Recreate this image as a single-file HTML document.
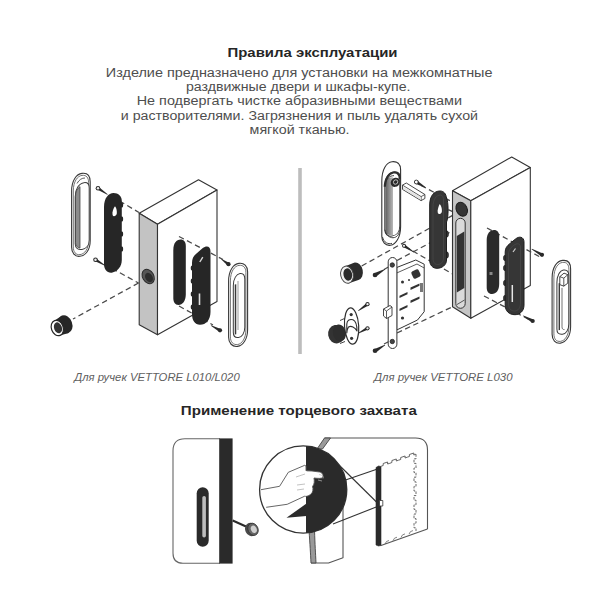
<!DOCTYPE html>
<html><head><meta charset="utf-8"><style>
html,body{margin:0;padding:0;background:#fff;width:600px;height:600px;overflow:hidden}
svg{display:block}
.t{font-family:"Liberation Sans",sans-serif}
</style></head><body>
<svg width="600" height="600" viewBox="0 0 600 600">

<g class="t" fill="#262626">
<text x="227.5" y="56.7" font-size="13.4" font-weight="bold" textLength="170" lengthAdjust="spacingAndGlyphs">Правила эксплуатации</text>
<text x="180.8" y="414.7" font-size="13.4" font-weight="bold" textLength="236" lengthAdjust="spacingAndGlyphs">Применение торцевого захвата</text>
</g>
<g class="t" fill="#4e4e4e" font-size="12">
<text x="105.8" y="76.7" textLength="386.7" lengthAdjust="spacingAndGlyphs">Изделие предназначено для установки на межкомнатные</text>
<text x="186" y="91" textLength="224.5" lengthAdjust="spacingAndGlyphs">раздвижные двери и шкафы-купе.</text>
<text x="136.7" y="105" textLength="325.3" lengthAdjust="spacingAndGlyphs">Не подвергать чистке абразивными веществами</text>
<text x="120.8" y="119.5" textLength="357.2" lengthAdjust="spacingAndGlyphs">и растворителями. Загрязнения и пыль удалять сухой</text>
<text x="249.6" y="134" textLength="100" lengthAdjust="spacingAndGlyphs">мягкой тканью.</text>
</g>
<g class="t" fill="#606060" font-size="10" font-style="italic">
<text x="74.2" y="380.5" textLength="165.5" lengthAdjust="spacingAndGlyphs">Для ручек VETTORE L010/L020</text>
<text x="374" y="380.5" textLength="138.5" lengthAdjust="spacingAndGlyphs">Для ручек VETTORE L030</text>
</g>
<rect x="298.2" y="168" width="3.6" height="186" fill="#bdbdbd"/>

<g id="left" stroke-linejoin="round" stroke-linecap="butt">
<g stroke="#4a4a4a" stroke-width="1.25" stroke-dasharray="5.5 3.5" fill="none"><line x1="119.5" y1="201" x2="139" y2="212.5"/><line x1="112" y1="268.5" x2="138.5" y2="283"/><line x1="138.5" y1="283" x2="73" y2="319"/></g>
<polygon points="139.2,213.3 198.5,179.7 217,190 157.5,224.2" fill="#fff" stroke="#333" stroke-width="1.1"/>
<polygon points="139.2,213.3 157.5,224.2 157.5,334.7 139.2,324.7" fill="#c3c3c3" stroke="#333" stroke-width="1.1"/>
<polygon points="157.5,224.2 217,190 217,301.5 157.5,334.7" fill="#fff" stroke="#333" stroke-width="1.1"/>
<ellipse cx="148.2" cy="276.5" rx="5.6" ry="7.6" transform="rotate(-30 148.2 276.5)" fill="#555" stroke="#2a2a2a" stroke-width="1"/>
<ellipse cx="149" cy="277.5" rx="3.6" ry="5" transform="rotate(-30 149 277.5)" fill="#2c2c2c"/>
<g stroke="#4a4a4a" stroke-width="1.25" stroke-dasharray="5.5 3.5" fill="none"><line x1="179" y1="236.5" x2="223" y2="259.5"/><line x1="179" y1="306" x2="213" y2="325"/></g>
<path d="M173.3,250 C173.3,243 176.5,239.5 180.5,239.5 C184,239.5 185.8,242 185.8,246 L185.8,294 C185.8,301 182.5,305 178.5,305 C175,305 173.3,302 173.3,298 Z" fill="#262626"/>
<path d="M192,263 C192,258.5 193.5,256 196.5,253.5 L202.5,248.3 C206.5,245 210.5,246 210.5,251.5 L210.5,312 C210.5,320 206,324.8 200,324.8 C195,324.8 192,320.5 192,314 Z" fill="#262626"/>
<ellipse cx="192" cy="268" rx="1.3" ry="2.6" fill="#262626"/>
<ellipse cx="192" cy="281" rx="1.3" ry="2.6" fill="#262626"/>
<ellipse cx="192" cy="294" rx="1.3" ry="2.6" fill="#262626"/>
<ellipse cx="192" cy="307" rx="1.3" ry="2.6" fill="#262626"/>
<path d="M199.8,262 L202.8,257.2" stroke="#d8d8d8" stroke-width="1.4"/>
<path d="M199.5,305 L199.5,293.5" stroke="#e0e0e0" stroke-width="1.6"/>
<path d="M104,207 C104,198 108.5,193 113.5,193 C118.5,193 121.8,196.5 121.8,201 L121.8,260 C121.8,266 118,271.3 112.5,272.5 C107.5,273.5 104,270 104,264 Z" fill="#262626"/>
<ellipse cx="121.8" cy="205" rx="1.4" ry="2.8" fill="#262626"/>
<ellipse cx="121.8" cy="219" rx="1.4" ry="2.8" fill="#262626"/>
<ellipse cx="121.8" cy="234" rx="1.4" ry="2.8" fill="#262626"/>
<ellipse cx="121.8" cy="249" rx="1.4" ry="2.8" fill="#262626"/>
<path d="M115,206.3 C116.6,208 117,211.5 116.8,213.5 C116.5,215.5 115,216.2 114,216.2 C112.7,216.2 112.3,214.8 112.5,212.5 C112.8,210 113.8,207.8 115,206.3 Z" fill="#fff"/>
<polygon points="107.69,194.21 98.82,187.04 97.18,189.56 107.31,194.79" fill="#2a2a2a"/><circle cx="98.00" cy="188.30" r="2.3" fill="#2a2a2a"/><circle cx="98.00" cy="188.30" r="1.26" fill="#eee"/>
<polygon points="105.18,265.20 96.28,258.42 94.72,260.98 104.82,265.80" fill="#2a2a2a"/><circle cx="95.50" cy="259.70" r="2.3" fill="#2a2a2a"/><circle cx="95.50" cy="259.70" r="1.26" fill="#eee"/>
<polygon points="221.30,259.48 227.57,265.50 229.43,262.90 221.70,258.92" fill="#2a2a2a"/><circle cx="228.50" cy="264.20" r="2.1" fill="#2a2a2a"/>
<polygon points="210.84,325.81 219.25,331.71 220.75,328.89 211.16,325.19" fill="#2a2a2a"/><circle cx="220.00" cy="330.30" r="2.1" fill="#2a2a2a"/>
<g transform="translate(81 215) skewY(-7) translate(-81 -215)">
<path d="M71.6,190 C71.6,179 76.5,173.5 82,173.5 C87,173.5 90.2,177 90.2,183 L90.2,242 C90.2,251 85.5,256.2 80,256.2 C75,256.2 71.6,252 71.6,246 Z" fill="#fff" stroke="#3a3a3a" stroke-width="1.1"/>
<path d="M73.3,190 C73.3,180.5 77.5,175.5 82,175.5 C86.3,175.5 88.6,178.5 88.6,183.5 L88.6,242 C88.6,250 84.5,254.5 80,254.5 C75.8,254.5 73.3,251 73.3,246 Z" fill="none" stroke="#555" stroke-width="0.8"/>
<path d="M75.2,196 C75.2,188 79,183 84,183 C87.5,183 89.2,185.5 89.2,189 L89.2,241 C89.2,246.5 86,249.5 82,249.5 C78,249.5 75.2,247 75.2,243 Z" fill="#fff" stroke="#3a3a3a" stroke-width="1"/>
<path d="M75.5,196 C75.5,191 77,188 80,186.5 L80,248 C77,247 75.5,245 75.5,242 Z" fill="#8c8c8c" stroke="#3a3a3a" stroke-width="0.7"/>
<path d="M77,183 C79,179.5 82,178 85,178.5" fill="none" stroke="#3a3a3a" stroke-width="0.8"/>
</g>
<g transform="translate(238 305) skewY(-7) translate(-238 -305)">
<path d="M228.6,280 C228.6,269 233.5,263.5 239,263.5 C244,263.5 247.6,267 247.6,273 L247.6,331 C247.6,340 243,346.3 237.5,346.3 C232.3,346.3 228.6,342 228.6,336 Z" fill="#fff" stroke="#3a3a3a" stroke-width="1.1"/>
<path d="M230.4,280 C230.4,270.5 234.5,265.5 239,265.5 C243.3,265.5 245.9,268.5 245.9,273.5 L245.9,331 C245.9,339 242,344.5 237.5,344.5 C233.3,344.5 230.4,341 230.4,336 Z" fill="none" stroke="#555" stroke-width="0.8"/>
<path d="M233.3,285 C233.3,278 236.5,273.8 240,273.8 C243,273.8 244.8,276 244.8,280 L244.8,328 C244.8,334 241.8,337.5 238.5,337.5 C235.3,337.5 233.3,335 233.3,331.5 Z" fill="#fff" stroke="#3a3a3a" stroke-width="1"/>
<path d="M235.5,284 L235.5,334" stroke="#3a3a3a" stroke-width="1.5"/>
<path d="M238,281 L238,330" stroke="#777" stroke-width="0.7"/>
</g>
<ellipse cx="65.3" cy="324.3" rx="6.9" ry="9.3" transform="rotate(-20 65.3 324.3)" fill="#262626"/>
<polygon points="54.6,320.6 62.1,315.6 68.5,333 60,335.4" fill="#262626"/>
<ellipse cx="57.3" cy="328" rx="5.9" ry="7.9" transform="rotate(-20 57.3 328)" fill="#fff" stroke="#262626" stroke-width="1.2"/>
<ellipse cx="58" cy="327.8" rx="3.9" ry="5.6" transform="rotate(-20 58 327.8)" fill="#333"/>
</g>
<g id="right" stroke-linejoin="round">
<g stroke="#4a4a4a" stroke-width="1.25" stroke-dasharray="5.5 3.5" fill="none"><line x1="421" y1="185.5" x2="452.5" y2="202"/><line x1="440" y1="206" x2="456" y2="213"/><line x1="361.7" y1="266" x2="456" y2="213.5"/><line x1="397" y1="260.5" x2="456" y2="229"/><line x1="405" y1="246.5" x2="452.5" y2="274"/><line x1="384" y1="269.5" x2="392" y2="265"/><line x1="397" y1="333" x2="452" y2="307"/><line x1="384" y1="344" x2="392" y2="340"/><line x1="344" y1="338" x2="336" y2="342"/></g>
<polygon points="452.5,190.8 511.7,157 530.3,167.5 470.8,200.8" fill="#fff" stroke="#333" stroke-width="1.1"/>
<polygon points="452.5,190.8 470.8,200.8 470.8,318.3 452.5,306.7" fill="#c6c6c6" stroke="#333" stroke-width="1.1"/>
<polygon points="470.8,200.8 530.3,167.5 530.3,285.5 470.8,318.3" fill="#fff" stroke="#333" stroke-width="1.1"/>
<ellipse cx="461.7" cy="209.2" rx="5.4" ry="7.3" transform="rotate(-25 461.7 209.2)" fill="#363636" stroke="#1e1e1e" stroke-width="1"/>
<rect x="455.8" y="218.3" width="9.4" height="90" rx="4.7" fill="#dadada" stroke="#333" stroke-width="1"/>
<path d="M456.8,236 L464.3,231.5 L464.3,288 L456.8,292.5 Z" fill="#333"/>
<path d="M457,304.5 L464.5,300" stroke="#333" stroke-width="0.8" fill="none"/>
<g stroke="#4a4a4a" stroke-width="1.25" stroke-dasharray="5.5 3.5" fill="none"><line x1="487" y1="228" x2="540" y2="257"/><line x1="484" y1="296" x2="530" y2="320"/></g>
<path d="M486.7,240 C486.7,233.5 490,230 494,230 C497.5,230 499.2,232.5 499.2,236.5 L499.2,284 C499.2,290.5 496,294 492,294 C488.5,294 486.7,291.5 486.7,287.5 Z" fill="#2a2a2a"/>
<rect x="489.5" y="272" width="3" height="3" fill="#888"/>
<ellipse cx="505" cy="258" rx="1.6" ry="2.8" fill="#363636" stroke="#1e1e1e" stroke-width="0.6"/>
<ellipse cx="505" cy="268" rx="1.6" ry="2.8" fill="#363636" stroke="#1e1e1e" stroke-width="0.6"/>
<ellipse cx="505" cy="283" rx="1.6" ry="2.8" fill="#363636" stroke="#1e1e1e" stroke-width="0.6"/>
<ellipse cx="505" cy="298" rx="1.6" ry="2.8" fill="#363636" stroke="#1e1e1e" stroke-width="0.6"/>
<path d="M505.2,252 C505.2,248 507,246 510,243.5 L515.5,239 C519,236 524,236.5 524,242 L524,305 C524,311 520,314.7 515,314.7 C509,314.7 505.2,311 505.2,305 Z" fill="#363636" stroke="#1e1e1e" stroke-width="1"/>
<path d="M508.5,254 C508.5,250 511,247 515,244.5 C518,243 520.5,244 520.5,247 L520.5,303 C520.5,308 518,311 514.5,311 C511,311 508.5,308.5 508.5,304 Z" fill="none" stroke="#484848" stroke-width="0.8"/>
<path d="M512.3,302 L512.3,285" stroke="#e6e6e6" stroke-width="1.5"/>
<path d="M513,252 L515.5,248.5" stroke="#cfcfcf" stroke-width="1.2"/>
<polygon points="531.53,249.30 541.21,256.19 542.79,253.41 531.87,248.70" fill="#2a2a2a"/><circle cx="542.00" cy="254.80" r="2.1" fill="#2a2a2a"/>
<polygon points="523.03,316.11 531.93,322.40 533.47,319.60 523.37,315.49" fill="#2a2a2a"/><circle cx="532.70" cy="321.00" r="2.1" fill="#2a2a2a"/>
<g transform="translate(561 302) skewY(-7) translate(-561 -302)">
<path d="M552.1,277 C552.1,266 557,260.6 562.5,260.6 C567.5,260.6 570.6,264 570.6,270 L570.6,328 C570.6,337 566,343.1 560.5,343.1 C555.5,343.1 552.1,339 552.1,333 Z" fill="#fff" stroke="#3a3a3a" stroke-width="1.1"/>
<path d="M553.9,277 C553.9,267.5 558,262.6 562.5,262.6 C566.8,262.6 568.9,265.5 568.9,270.5 L568.9,328 C568.9,336 565,341.3 560.5,341.3 C556.3,341.3 553.9,338 553.9,333 Z" fill="none" stroke="#555" stroke-width="0.8"/>
<path d="M556.9,282 C556.9,275 560,270.3 563.5,270.3 C566.8,270.3 568.8,272.5 568.8,276.5 L568.8,325 C568.8,331 566,334.4 562.5,334.4 C559,334.4 556.9,332 556.9,328.5 Z" fill="#fff" stroke="#3a3a3a" stroke-width="1"/>
<path d="M559.3,283 L559.3,330" stroke="#3a3a3a" stroke-width="1.4"/>
<path d="M562,288 L562,327 C562,329 563,330 564.5,330" fill="none" stroke="#555" stroke-width="0.8"/>
<path d="M559.8,276.5 L564,273.5 L567.8,275.5 L567.8,284 L563.8,286.5 L559.8,284.5 Z" fill="#fff" stroke="#333" stroke-width="0.9"/>
<path d="M559.8,276.5 L563.8,278.5 L567.8,275.5 M563.8,278.5 L563.8,286.5" stroke="#333" stroke-width="0.8" fill="none"/>
</g>
<ellipse cx="446.8" cy="234" rx="1.7" ry="3.2" fill="#363636" stroke="#1e1e1e" stroke-width="0.6"/>
<ellipse cx="446.8" cy="255" rx="1.7" ry="3.2" fill="#363636" stroke="#1e1e1e" stroke-width="0.6"/>
<path d="M429.7,205 C429.7,196 434,191 440,191 C444,191 446,194 446.5,198 C448.5,201 448.7,218 446.5,222 L446.5,260 C446.5,265 442,268.3 437,268.3 C432.5,268.3 429.7,265 429.7,260 Z" fill="#363636" stroke="#1e1e1e" stroke-width="1"/>
<path d="M433,207 C433,199 436.5,195 440.5,195 C443,195 443.5,198 443.5,200 L443.5,258 C443.5,262 441,264.5 437.5,264.5 C434.5,264.5 433,262 433,258 Z" fill="none" stroke="#484848" stroke-width="0.8"/>
<path d="M439.8,204 C441.5,206 442.1,209.5 441.9,211.5 C441.6,213.5 440.2,214 439.2,214 C437.9,214 437.5,212.5 437.7,210.5 C438,208 438.8,205.5 439.8,204 Z" fill="#fff"/>
<g transform="translate(391 203) skewY(-7) translate(-391 -203)">
<path d="M381.8,180 C381.8,168 386.5,161.8 392,161.8 C397,161.8 400.6,165 400.6,171 L400.6,228 C400.6,238 396,245.2 390.5,245.2 C385.5,245.2 381.8,241 381.8,235 Z" fill="#fff" stroke="#333" stroke-width="1.1"/>
<path d="M384.8,185 C384.8,177 389,172.3 393.5,172.3 C397.5,172.3 399.8,175 399.8,180 L399.8,227 C399.8,233 396.5,236.2 392,236.2 C388,236.2 384.8,233.5 384.8,229 Z" fill="#fff" stroke="#333" stroke-width="1"/>
<defs><linearGradient id="hg" x1="0" x2="1" y1="0" y2="0"><stop offset="0" stop-color="#5e5e5e"/><stop offset="1" stop-color="#b8b8b8"/></linearGradient></defs>
<path d="M385.3,184 C385.3,181 386.5,179 388.5,177.5 L393,177.5 L393,235.5 C388.5,235.5 385.3,233 385.3,229 Z" fill="url(#hg)"/>
<path d="M385,184 C386,178 389.5,175.5 394,176 M384.8,229 C386,234 389,237.5 393,238 C397,238.3 399.5,235 399.8,231 M382.5,236 C384,242 388,244 392,243.5" fill="none" stroke="#333" stroke-width="0.9"/>
<path d="M384.8,186 C385,177.5 389,173 393.5,172.8 C397.5,172.8 399.8,175.5 399.8,180" fill="none" stroke="#2e2e2e" stroke-width="2.2"/>
<circle cx="395.3" cy="182.8" r="4.6" fill="#2a2a2a"/>
<circle cx="395.6" cy="182.6" r="2.2" fill="none" stroke="#ddd" stroke-width="0.8"/>
</g>
<polygon points="402.5,185.1 406.3,183 424.9,194.5 424.9,198.5 421.1,200.6 402.5,189.4" fill="#fff" stroke="#333" stroke-width="0.9"/>
<polyline points="402.5,185.1 421.1,196.6 424.9,194.5" fill="none" stroke="#333" stroke-width="0.8"/>
<line x1="421.1" y1="196.6" x2="421.1" y2="200.6" stroke="#333" stroke-width="0.8"/>
<polygon points="403,186.5 421,197.3 421,200 403,189" fill="#e4e4e4"/>
<polygon points="425.68,187.20 417.41,180.65 415.59,183.75 425.32,187.80" fill="#2a2a2a"/><circle cx="416.50" cy="182.20" r="2.1" fill="#2a2a2a"/>
<circle cx="416.3" cy="182" r="1.9" fill="#fff" stroke="#333" stroke-width="0.9"/>
<path d="M396.7,267.5 L415.8,260 L424.2,264.2 L424.2,311.7 L417.5,320 L396.7,330 Z" fill="#fff" stroke="#333" stroke-width="1"/>
<path d="M396.7,273 L417,264 L424.2,268" stroke="#333" stroke-width="0.8" fill="none"/>
<g fill="#333"><rect x="412" y="270" width="8" height="8" rx="2" transform="rotate(-25 416 274)"/><circle cx="402.5" cy="282" r="1.5"/><circle cx="409" cy="280" r="1"/><circle cx="402.5" cy="318" r="1.6"/><rect x="399.5" y="294" width="8" height="2.3" transform="skewY(-25) translate(0 188)"/><rect x="410.5" y="288" width="9" height="2.3" transform="skewY(-25) translate(0 191)"/><rect x="399.5" y="307" width="8" height="2.3" transform="skewY(-25) translate(0 188)"/><rect x="410.5" y="301" width="9" height="2.3" transform="skewY(-25) translate(0 191)"/><rect x="420" y="283" width="3" height="9" fill="#777"/></g>
<rect x="388.2" y="257.5" width="8.7" height="91" rx="4.35" fill="#fff" stroke="#333" stroke-width="1"/>
<circle cx="392.3" cy="265" r="2.2" fill="#444" stroke="#222" stroke-width="0.8"/><circle cx="392.3" cy="341.5" r="2.2" fill="#444" stroke="#222" stroke-width="0.8"/>
<path d="M383.5,309 L390,305.5 L392,307 L392,315.5 L386.5,318.5 L383.5,316 Z" fill="#fff" stroke="#333" stroke-width="0.9"/>
<path d="M383.5,309 L386.5,311 L392,307 M386.5,311 L386.5,318.5" stroke="#333" stroke-width="0.8" fill="none"/>
<polygon points="384.82,268.90 374.05,273.36 375.95,276.64 385.18,269.50" fill="#2a2a2a"/><circle cx="375.00" cy="275.00" r="2.3" fill="#2a2a2a"/>
<polygon points="384.82,344.70 374.05,349.16 375.95,352.44 385.18,345.30" fill="#2a2a2a"/><circle cx="375.00" cy="350.80" r="2.3" fill="#2a2a2a"/>
<polygon points="413.89,251.71 404.81,244.54 403.19,247.06 413.51,252.29" fill="#2a2a2a"/><circle cx="404.00" cy="245.80" r="2" fill="#2a2a2a"/><circle cx="404.00" cy="245.80" r="1.10" fill="#eee"/>
<polygon points="358.50,311.08 368.37,305.42 366.63,302.98 358.10,310.52" fill="#2a2a2a"/><circle cx="367.50" cy="304.20" r="2.1" fill="#2a2a2a"/><circle cx="367.50" cy="304.20" r="1.16" fill="#eee"/>
<polygon points="358.47,333.61 368.22,329.62 366.78,326.98 358.13,332.99" fill="#2a2a2a"/><circle cx="367.50" cy="328.30" r="2.1" fill="#2a2a2a"/><circle cx="367.50" cy="328.30" r="1.16" fill="#eee"/>
<ellipse cx="356.5" cy="271.3" rx="6.3" ry="8.8" transform="rotate(-12 356.5 271.3)" fill="#2c2c2c"/>
<polygon points="345.2,266.2 354.7,262.6 358.4,280 348.8,283.3" fill="#2c2c2c"/>
<ellipse cx="347" cy="274.7" rx="6.3" ry="8.7" transform="rotate(-12 347 274.7)" fill="#f2f2f2" stroke="#444" stroke-width="1"/>
<ellipse cx="347.8" cy="274.5" rx="4.3" ry="6.2" transform="rotate(-12 347.8 274.5)" fill="#2a2a2a"/>
<path d="M340,320.5 L344.5,318.5 M340,343.5 L345,341.5" stroke="#444" stroke-width="1"/>
<ellipse cx="336.3" cy="334.2" rx="8.2" ry="9.3" transform="rotate(-10 336.3 334.2)" fill="#333"/>
<ellipse cx="339.5" cy="333" rx="6.5" ry="8.6" transform="rotate(-10 339.5 333)" fill="#2e2e2e"/>
<ellipse cx="351.6" cy="326" rx="7.1" ry="18.2" transform="rotate(-4 351.6 326)" fill="#fff" stroke="#2e2e2e" stroke-width="1.2"/>
<path d="M346.8,333 L346.8,324 C347,320 350,318.8 353,319.8 C355.5,321 357,325 357,331 C355,327 351,325.5 348.5,327 C347.5,328.5 347,331 346.8,333 Z" fill="#fff" stroke="#2e2e2e" stroke-width="1.1"/>
<circle cx="351.2" cy="314.6" r="1.6" fill="#333"/><circle cx="351.6" cy="338.3" r="1.6" fill="#333"/>
</g>
<g id="bottom" stroke-linejoin="round">
<path d="M220,438.7 L185,438.7 Q173,438.7 173,450.7 L173,553.3 Q173,563.3 183,563.3 L220,563.3" fill="#fff" stroke="#666" stroke-width="1.1"/>
<rect x="219.2" y="438.4" width="13.4" height="125.2" fill="#2a2a2a"/>
<rect x="196.7" y="487.3" width="12" height="59.4" rx="6" fill="#2a2a2a"/>
<rect x="202.3" y="496" width="3.6" height="41.5" rx="1.8" fill="#bdbdbd"/>
<path d="M232.7,520.5 L246,526.5" stroke="#2a2a2a" stroke-width="2"/>
<ellipse cx="251" cy="529.5" rx="5.8" ry="6.8" transform="rotate(-25 251 529.5)" fill="#4a4a4a"/>
<ellipse cx="253" cy="529.3" rx="5" ry="6.3" transform="rotate(-25 253 529.3)" fill="#666" stroke="#333" stroke-width="0.8"/>
<ellipse cx="253.8" cy="529.3" rx="2.8" ry="3.8" transform="rotate(-25 253.8 529.3)" fill="#d0d0d0"/>
<path d="M324.5,438 L415.5,438 Q427.5,438 427.5,450 L427.5,529" fill="none" stroke="#555" stroke-width="1.1"/>
<path d="M311,563 L328.5,563 L343,557.8 L343,500" fill="none" stroke="#555" stroke-width="1.1"/>
<path d="M324.5,438 L330.5,438 L322.5,449 L317,449 Z" fill="#9a9a9a" stroke="#444" stroke-width="0.9"/>
<path d="M309,530 C310,545 310.5,553 311,563 L316,563 C315.5,553 315,545 314.5,530 Z" fill="#9a9a9a" stroke="#444" stroke-width="0.9"/>
<g stroke="#333" stroke-width="1.1" fill="none"><line x1="340" y1="466" x2="378" y2="503.5"/><line x1="345.5" y1="480" x2="377.5" y2="469"/><line x1="333" y1="524" x2="377.5" y2="506.5"/></g>
<path d="M381,466.5 L416,454.2 L416,531 L381,545.5 Z" fill="#fff"/>
<path d="M381,466.3 L383.2,465.5 L383.2,463.5 L387.6,462.0 L387.6,464.0 L389.8,463.3 L391.9,462.5 L391.9,460.5 L396.3,459.0 L396.3,461.0 L398.5,460.2 L400.7,459.5 L400.7,457.5 L405.1,456.0 L405.1,458.0 L407.2,457.2 L409.4,456.5 L409.4,454.5 L413.8,453.0 L413.8,455.0 L416.0,454.2" fill="none" stroke="#555" stroke-width="0.9" stroke-linejoin="miter"/>
<path d="M416,454.2 L416,454.2 L416,458.8 L414,458.8 L414,463.4 L416,463.4 L416,468.0 L414,468.0 L414,472.6 L416,472.6 L416,477.2 L414,477.2 L414,481.8 L416,481.8 L416,486.4 L414,486.4 L414,491.0 L416,491.0 L416,495.6 L414,495.6 L414,500.2 L416,500.2 L416,504.8 L414,504.8 L414,509.4 L416,509.4 L416,514.0 L414,514.0 L414,518.6 L416,518.6 L416,523.2 L414,523.2 L414,527.8 L416,527.8 L416,531.0" fill="none" stroke="#6a6a6a" stroke-width="1" stroke-dasharray="2.6 1.2" stroke-linejoin="miter"/>
<path d="M385,544.0 L386.5,541.5 L389,540.5" fill="none" stroke="#666" stroke-width="0.8"/>
<path d="M393,540.7 L394.5,538.2 L397,537.2" fill="none" stroke="#666" stroke-width="0.8"/>
<path d="M401,537.4 L402.5,534.9 L405,533.9" fill="none" stroke="#666" stroke-width="0.8"/>
<path d="M409,534.1 L410.5,531.6 L413,530.6" fill="none" stroke="#666" stroke-width="0.8"/>
<path d="M381,545.5 L427.5,529" fill="none" stroke="#555" stroke-width="1.1"/>
<path d="M376,467.5 L378.5,466 L381,466.5 L381,545.5 L378.5,546 L376,545 Z" fill="#2a2a2a" stroke="#2a2a2a" stroke-width="0.6"/>
<rect x="379.5" y="500.5" width="3.3" height="5.5" fill="#fff" stroke="#333" stroke-width="0.8"/>
<circle cx="303.2" cy="489.5" r="43.6" fill="#fff" stroke="#333" stroke-width="1.3"/>
<path d="M306,445.99 A43.6,43.6 0 0 1 306,533.01 Z" fill="#2a2a2a"/>
<path d="M261,489.7 L279.6,486.3 L288.3,472.3 L304.7,465.3 L306,466 L306,470.8 L312,471 L319.5,472 C322.5,472.8 323.8,475 322.5,477.5 C321.5,478.7 318,478.5 314,478 C314.5,481 314.5,484.5 312.5,486.5 C313.5,489 313,492.5 310.5,494.5 L308,496 L304.7,496.2 L287.2,504.3 L266.2,507.3" fill="#fff" stroke="#555" stroke-width="0.9"/>
<path d="M306,471 L306,496" stroke="#fff" stroke-width="1.2"/>
<path d="M296,477 L305,474 M297,485 L305,484 M297,490 L304,489" stroke="#999" stroke-width="0.6" fill="none"/>
<path d="M319,474.5 C322,475 324,476.5 323,478.5 M318,480 L322,481" stroke="#bbb" stroke-width="0.7" fill="none"/>
<path d="M286.5,517.8 L306.5,503.5 L306.5,516 Z" fill="#2a2a2a"/>
</g>
</svg>
</body></html>
